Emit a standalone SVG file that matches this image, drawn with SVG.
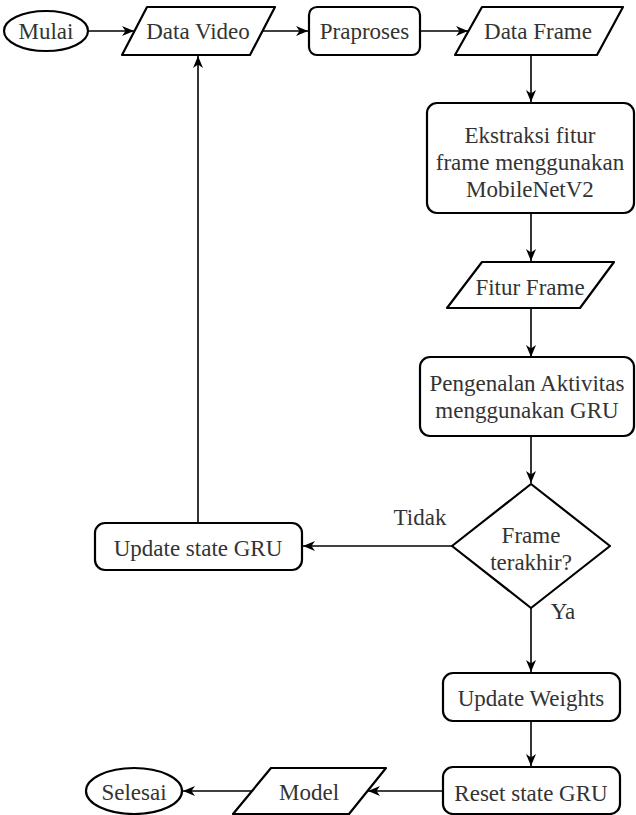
<svg xmlns="http://www.w3.org/2000/svg" width="636" height="815" viewBox="0 0 636 815">
  <defs>
    <marker id="arrow" markerWidth="13" markerHeight="12" refX="12" refY="6" orient="auto" markerUnits="userSpaceOnUse">
      <path d="M0,1 L12,6 L0,11 L3.5,6 Z" fill="#000"/>
    </marker>
    <style>
      .shape { fill: #fff; stroke: #000; stroke-width: 2.2; stroke-linejoin: round; }
      .edge { fill: none; stroke: #000; stroke-width: 1.6; }
      .arrow { marker-end: url(#arrow); }
      .lbl { font-family: "Liberation Serif", Tinos, "Noto Serif", "DejaVu Serif", Times, serif; font-size: 23px; fill: #333; text-anchor: middle; }
    </style>
  </defs>
  <rect width="636" height="815" fill="#fff"/>

  <!-- connectors -->
  <g id="connectors">
    <line class="edge arrow" x1="88" y1="31" x2="134" y2="31"/>
    <line class="edge arrow" x1="262" y1="31" x2="308" y2="31"/>
    <line class="edge arrow" x1="420" y1="31" x2="468" y2="31"/>
    <line class="edge arrow" x1="531" y1="55" x2="531" y2="102"/>
    <line class="edge arrow" x1="531" y1="213" x2="531" y2="261"/>
    <line class="edge arrow" x1="531" y1="308" x2="531" y2="357"/>
    <line class="edge arrow" x1="531" y1="436" x2="531" y2="483"/>
    <line class="edge arrow" x1="452" y1="546" x2="303" y2="546"/>
    <line class="edge arrow" x1="198" y1="523" x2="198" y2="56"/>
    <line class="edge arrow" x1="531" y1="608" x2="531" y2="672"/>
    <line class="edge arrow" x1="531" y1="721" x2="531" y2="766"/>
    <line class="edge arrow" x1="443" y1="791" x2="368" y2="791"/>
    <line class="edge arrow" x1="252" y1="791" x2="183" y2="791"/>
    <text class="lbl" x="420" y="525">Tidak</text>
    <text class="lbl" x="563" y="619">Ya</text>
  </g>

  <g id="mulai">
    <ellipse class="shape" cx="46" cy="31" rx="42" ry="20"/>
    <text class="lbl" x="46" y="39">Mulai</text>
  </g>

  <g id="data-video">
    <polygon class="shape" points="147,7 275,7 250,55 122,55"/>
    <text class="lbl" x="198" y="39">Data Video</text>
  </g>

  <g id="praproses">
    <rect class="shape" x="309" y="7" width="111" height="48" rx="8"/>
    <text class="lbl" x="364.5" y="39">Praproses</text>
  </g>

  <g id="data-frame">
    <polygon class="shape" points="482,7 623,7 597,55 455,55"/>
    <text class="lbl" x="538" y="39">Data Frame</text>
  </g>

  <g id="ekstraksi">
    <rect class="shape" x="427" y="103" width="207" height="110" rx="10"/>
    <text class="lbl" x="530" y="143">Ekstraksi fitur</text>
    <text class="lbl" x="530" y="170">frame menggunakan</text>
    <text class="lbl" x="530" y="197">MobileNetV2</text>
  </g>

  <g id="fitur-frame">
    <polygon class="shape" points="482,262 614,262 580,308 447,308"/>
    <text class="lbl" x="530" y="295">Fitur Frame</text>
  </g>

  <g id="pengenalan">
    <rect class="shape" x="420" y="357" width="214" height="79" rx="10"/>
    <text class="lbl" x="527" y="391">Pengenalan Aktivitas</text>
    <text class="lbl" x="527" y="418">menggunakan GRU</text>
  </g>

  <g id="frame-terakhir">
    <polygon class="shape" points="531,484 610,546 531,608 452,546"/>
    <text class="lbl" x="531" y="543">Frame</text>
    <text class="lbl" x="531" y="570">terakhir?</text>
  </g>

  <g id="update-state">
    <rect class="shape" x="95" y="523" width="207" height="47" rx="10"/>
    <text class="lbl" x="198" y="556">Update state GRU</text>
  </g>

  <g id="update-weights">
    <rect class="shape" x="443" y="673" width="177" height="48" rx="10"/>
    <text class="lbl" x="531" y="706">Update Weights</text>
  </g>

  <g id="reset-state">
    <rect class="shape" x="443" y="767" width="177" height="47" rx="10"/>
    <text class="lbl" x="531" y="801">Reset state GRU</text>
  </g>

  <g id="model">
    <polygon class="shape" points="271,768 386,768 349,814 233,814"/>
    <text class="lbl" x="309" y="800">Model</text>
  </g>

  <g id="selesai">
    <ellipse class="shape" cx="134" cy="791" rx="48" ry="23"/>
    <text class="lbl" x="134" y="800">Selesai</text>
  </g>
</svg>
